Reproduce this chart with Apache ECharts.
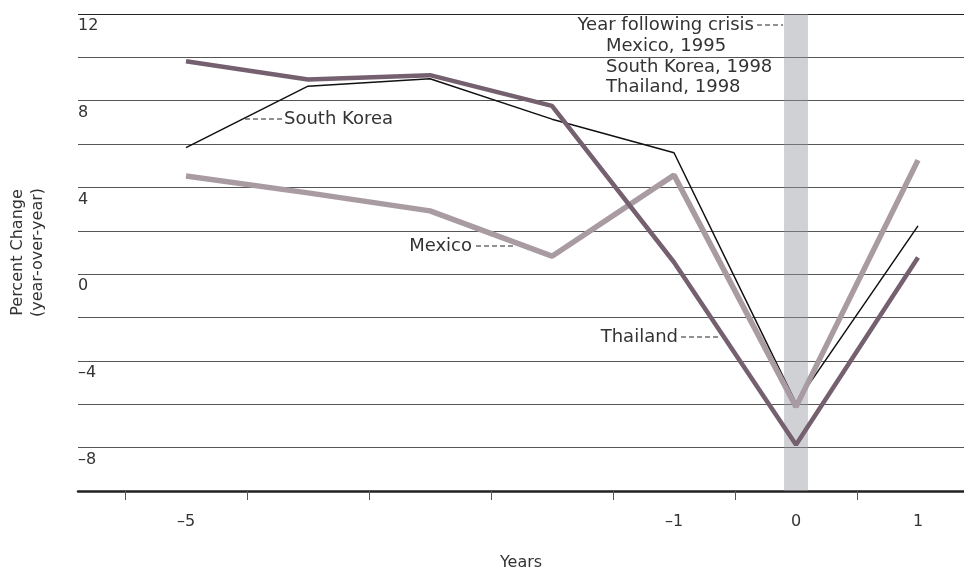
<!DOCTYPE html>
<html>
<head>
<meta charset="utf-8">
<script src="https://cdn.jsdelivr.net/npm/echarts@6/dist/echarts.min.js"></script>
<style>html,body{margin:0;padding:0;background:#fff}#c{width:964px;height:570px}</style>
</head>
<body>
<div id="c"></div>
<script>
// Data (years relative to crisis)
const years = [-5, -4, -3, -2, -1, 0, 1];
const southKorea = [5.84, 8.67, 9.01, 7.15, 5.6, -5.95, 2.23];
const mexico = [4.53, 3.75, 2.92, 0.83, 4.57, -6.12, 5.26];
const thailand = [9.82, 8.98, 9.18, 7.76, 0.55, -7.87, 0.77];
const xTickLabels = [-5, -1, 0, 1];
const xTickMarks = [-5.5, -4.5, -3.5, -2.5, -1.5, -0.5, 0.5];
const crisisBand = [-0.098, 0.098];

const FONT = 'DejaVu Sans';
const TXT = '#333';
const pair = (xs, ys) => xs.map((x, i) => [x, ys[i]]);
const dash = v => String(v).replace('-', '\u2013');

const chart = echarts.init(document.getElementById('c'));
const textStyle = { fontFamily: FONT, fontSize: 18, fill: TXT };
const leader = (x1, y1, x2, y2) => ({
  type: 'line', shape: { x1, y1, x2, y2 },
  style: { stroke: '#222', lineWidth: 1, lineDash: [5, 3] }
});
const label = (x, y, text, align) => ({
  type: 'text', x, y,
  style: Object.assign({ text, textAlign: align || 'left', textVerticalAlign: 'middle' }, textStyle)
});

chart.setOption({
  animation: false,
  grid: { left: 78, right: 0, top: 14, bottom: 79, containLabel: false, outerBoundsMode: 'none' },
  xAxis: {
    type: 'value', min: -5.8852, max: 1.377,
    axisLine: { show: true, onZero: false, lineStyle: { color: '#222', width: 2.5 } },
    axisTick: { show: true, customValues: xTickMarks, length: 9, lineStyle: { color: '#555', width: 1 } },
    axisLabel: { customValues: xTickLabels, margin: 23, color: TXT, fontFamily: FONT, fontSize: 16, formatter: dash },
    splitLine: { show: false },
    name: 'Years', nameLocation: 'middle', nameGap: 64,
    nameTextStyle: { color: TXT, fontFamily: FONT, fontSize: 16 }
  },
  yAxis: {
    type: 'value', min: -10, max: 12, interval: 2,
    axisLine: { show: false }, axisTick: { show: false },
    axisLabel: {
      inside: true, margin: 0, verticalAlign: 'top', padding: [4, 0, 0, 0],
      color: TXT, fontFamily: FONT, fontSize: 16,
      formatter: v => (v % 4 === 0 && v > -10) ? dash(v) : ''
    },
    splitLine: { show: true, lineStyle: { color: ['#555','#555','#555','#555','#555','#555','#555','#555','#555','#555','#555','#222'], width: 1 } },
    name: 'Percent Change\n(year-over-year)', nameLocation: 'middle', nameGap: 30, nameRotate: 90,
    nameTextStyle: { color: TXT, fontFamily: FONT, fontSize: 16, lineHeight: 20 }
  },
  series: [
    {
      name: 'South Korea', type: 'line', data: pair(years, southKorea), symbol: 'none',
      lineStyle: { color: '#111', width: 1.5 }, z: 3,
      markArea: {
        silent: true,
        itemStyle: { color: 'rgba(150,152,160,0.45)' },
        data: [[{ xAxis: crisisBand[0] }, { xAxis: crisisBand[1] }]]
      }
    },
    {
      name: 'Mexico', type: 'line', data: pair(years, mexico), symbol: 'none',
      lineStyle: { color: '#a99ba2', width: 5.5 }, z: 4
    },
    {
      name: 'Thailand', type: 'line', data: pair(years, thailand), symbol: 'none',
      lineStyle: { color: '#75606f', width: 4.5 }, z: 5
    }
  ],
  graphic: [
    leader(245, 119, 282, 119), label(284, 119, 'South Korea'),
    label(472, 246, 'Mexico', 'right'), leader(476, 246, 515, 246),
    label(678, 337, 'Thailand', 'right'), leader(681, 337, 720, 337),
    label(754, 25, 'Year following crisis', 'right'), leader(757, 25, 783, 25),
    label(606, 46, 'Mexico, 1995'),
    label(606, 67, 'South Korea, 1998'),
    label(606, 87, 'Thailand, 1998')
  ]
});
</script>
</body>
</html>
